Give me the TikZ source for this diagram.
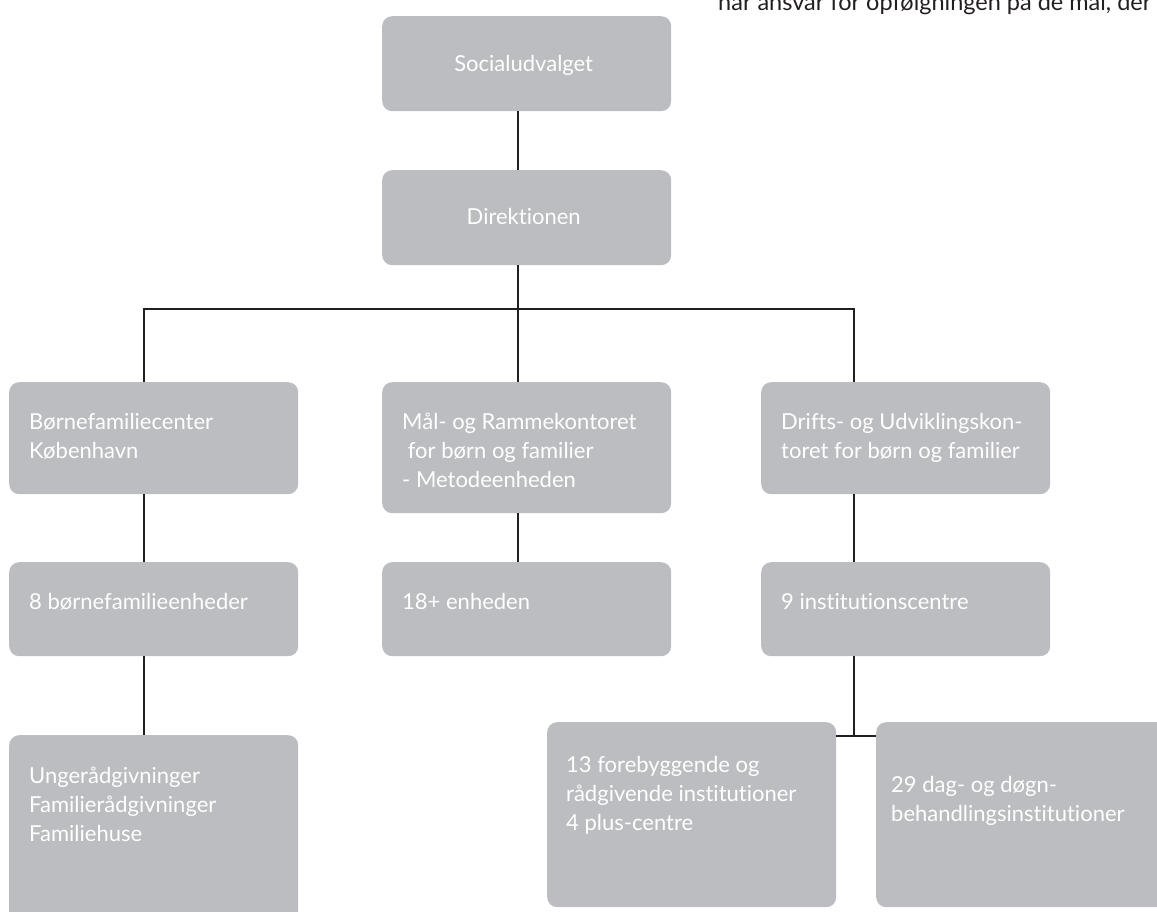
\documentclass[tikz,border=0pt]{standalone}
\usepackage{fontspec}
\setmainfont{Lato}[Ligatures={NoCommon}]
\usetikzlibrary{calc}
\definecolor{boxgray}{HTML}{BCBDC1}
\definecolor{inkdark}{HTML}{231F20}
\newcommand\btxt[1]{\begin{tabular}[t]{@{}l@{}}#1\end{tabular}}
\begin{document}
\begin{tikzpicture}[x=1pt,y=-1pt,
  orgbox/.style={fill=boxgray,draw=none,rounded corners=10pt,inner sep=0pt,anchor=north west},
  boxtxt/.style={inner sep=0pt,text=white,font=\fontsize{22}{29}\selectfont},
  conn/.style={draw=inkdark,line width=1.6pt}]
\useasboundingbox (0,0) rectangle (1157,912);
% top-right fragment of running text
\node[anchor=base west,inner sep=0pt,text=inkdark,font=\fontsize{23.5}{28}\selectfont] (toptext) at (718,11) {har ansvar for opfølgningen på de mål, der};
% boxes
\node[orgbox,minimum width=289pt,minimum height=95pt] (soc) at (382,16) {};
\node[orgbox,minimum width=289pt,minimum height=95pt] (dir) at (382,170) {};
\node[orgbox,minimum width=289pt,minimum height=112pt] (b1) at (9,382) {};
\node[orgbox,minimum width=289pt,minimum height=131pt] (b2) at (382,382) {};
\node[orgbox,minimum width=289pt,minimum height=112pt] (b3) at (761,382) {};
\node[orgbox,minimum width=289pt,minimum height=94pt] (c1) at (9,562) {};
\node[orgbox,minimum width=289pt,minimum height=94pt] (c2) at (382,562) {};
\node[orgbox,minimum width=289pt,minimum height=94pt] (c3) at (761,562) {};
\node[orgbox,minimum width=289pt,minimum height=200pt] (d1) at (9,735) {};
\node[orgbox,minimum width=289pt,minimum height=185pt] (d2) at (547,722) {};
\node[orgbox,minimum width=294pt,minimum height=185pt] (d3) at (876,722) {};
% texts
\node[boxtxt,anchor=base] (socT) at ($(soc.north)+(-3,56)$) {Socialudvalget};
\node[boxtxt,anchor=base] (dirT) at ($(dir.north)+(-3,55)$) {Direktionen};
\node[boxtxt,anchor=base west] (b1T) at ($(b1.north west)+(20,47)$) {\btxt{Børnefamiliecenter\\København}};
\node[boxtxt,anchor=base west] (b2T) at ($(b2.north west)+(20,47)$) {\btxt{Mål- og Rammekontoret\\\ for børn og familier\\- Metodeenheden}};
\node[boxtxt,anchor=base west] (b3T) at ($(b3.north west)+(20,47)$) {\btxt{Drifts- og Udviklingskon-\\toret for børn og familier}};
\node[boxtxt,anchor=base west] (c1T) at ($(c1.north west)+(20,47)$) {8 børnefamilieenheder};
\node[boxtxt,anchor=base west] (c2T) at ($(c2.north west)+(20,47)$) {18+ enheden};
\node[boxtxt,anchor=base west] (c3T) at ($(c3.north west)+(20,47)$) {9 institutionscentre};
\node[boxtxt,anchor=base west] (d1T) at ($(d1.north west)+(20,48)$) {\btxt{Ungerådgivninger\\Familierådgivninger\\Familiehuse}};
\node[boxtxt,anchor=base west] (d2T) at ($(d2.north west)+(19,50)$) {\btxt{13 forebyggende og\\rådgivende institutioner\\4 plus-centre}};
\node[boxtxt,anchor=base west] (d3T) at ($(d3.north west)+(15,70)$) {\btxt{29 dag- og døgn-\\behandlingsinstitutioner}};
% bus coordinates
\coordinate (busL) at (144,309);
\coordinate (busM) at (518,309);
\coordinate (busR) at (854,309);
\coordinate (junc) at (854,736);
% connectors
\draw[conn] (soc.south -| busM) -- (dir.north -| busM);
\draw[conn] (dir.south -| busM) -- (busM);
\draw[conn] (b1.north -| busL) -- (busL) -- (busR) -- (b3.north -| busR);
\draw[conn] (busM) -- (b2.north -| busM);
\draw[conn] (b1.south -| busL) -- (c1.north -| busL);
\draw[conn] (b2.south -| busM) -- (c2.north -| busM);
\draw[conn] (b3.south -| busR) -- (c3.north -| busR);
\draw[conn] (c1.south -| busL) -- (d1.north -| busL);
\draw[conn] (c3.south -| busR) -- (junc);
\draw[conn] (d2.east |- junc) -- (d3.west |- junc);
\end{tikzpicture}
\end{document}
